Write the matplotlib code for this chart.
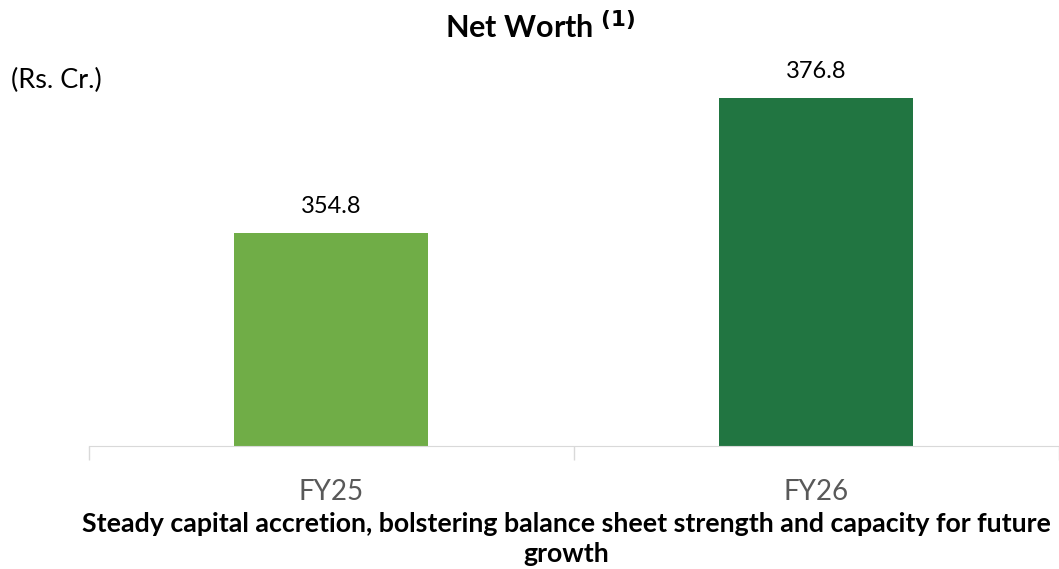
import matplotlib.pyplot as plt

categories = ['FY25', 'FY26']
net_worth = [354.8, 376.8]
bar_colors = ['#70AD47', '#217541']

plt.rcParams['font.family'] = ['Lato', 'DejaVu Sans']

fig = plt.figure(figsize=(10.59, 5.69), dpi=100)
ax = fig.add_axes([0.084, 0.216, 0.916, 0.755])

x = range(len(categories))
bars = ax.bar(x, net_worth, width=0.4, color=bar_colors)
for b, v in zip(bars, net_worth):
    ax.text(b.get_x() + b.get_width() / 2, v + 2.6, f'{v:.1f}',
            ha='center', va='bottom', fontsize=17, color='#000000')

ax.set_xlim(-0.5, 1.5)
ax.set_ylim(320, 390)
ax.set_yticks([])
ax.set_xticks(list(x))
ax.set_xticklabels(categories, fontsize=20, color='#595959')
ax.set_xticks([-0.5, 0.5, 1.5], minor=True)
ax.tick_params(axis='x', which='major', length=0, pad=24)
ax.tick_params(axis='x', which='minor', length=10, color='#d9d9d9', width=1)
for s in ['top', 'right', 'left']:
    ax.spines[s].set_visible(False)
ax.spines['bottom'].set_color('#d9d9d9')

fig.text(0.510, 0.952, r'Net Worth $^{\mathbf{(1)}}$', ha='center', va='center',
         fontsize=22, fontweight='bold')
fig.text(0.010, 0.858, '(Rs. Cr.)', ha='left', va='center', fontsize=19.5)
fig.text(0.535, 0.052, 'Steady capital accretion, bolstering balance sheet strength and capacity for future\ngrowth',
         ha='center', va='center', fontsize=19.3, fontweight='bold', linespacing=1.3)

fig.savefig('out.png', dpi=100)
